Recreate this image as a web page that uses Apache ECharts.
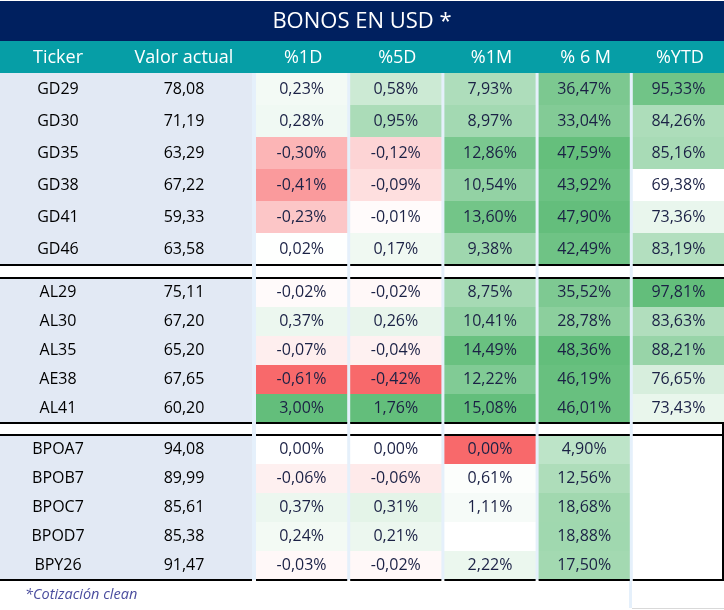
<!DOCTYPE html>
<html><head><meta charset="utf-8">
<script src="https://cdn.jsdelivr.net/npm/echarts@6/dist/echarts.min.js"></script>
<style>html,body{margin:0;padding:0;background:#fff}#c{width:724px;height:610px}</style>
</head><body><div id="c"></div>
<script>
// ---------- data ----------
const titleText = 'BONOS EN USD *';
const footnote = '*Cotización clean';
const headersLeft = ['Ticker', 'Valor actual'];
const headersRight = ['%1D', '%5D', '%1M', '% 6 M', '%YTD'];
const groupGD = ['GD29', 'GD30', 'GD35', 'GD38', 'GD41', 'GD46'];
const groupAL = ['AL29', 'AL30', 'AL35', 'AE38', 'AL41'];
const groupBP = ['BPOA7', 'BPOB7', 'BPOC7', 'BPOD7', 'BPY26'];
const valorActual = [78.08, 71.19, 63.29, 67.22, 59.33, 63.58, 75.11, 67.20, 65.20, 67.65, 60.20, 94.08, 89.99, 85.61, 85.38, 91.47];
const pct1D = [0.23, 0.28, -0.30, -0.41, -0.23, 0.02, -0.02, 0.37, -0.07, -0.61, 3.00, 0.00, -0.06, 0.37, 0.24, -0.03];
const pct5D = [0.58, 0.95, -0.12, -0.09, -0.01, 0.17, -0.02, 0.26, -0.04, -0.42, 1.76, 0.00, -0.06, 0.31, 0.21, -0.02];
const pct1M = [7.93, 8.97, 12.86, 10.54, 13.60, 9.38, 8.75, 10.41, 14.49, 12.22, 15.08, 0.00, 0.61, 1.11, null, 2.22];
const pct6M = [36.47, 33.04, 47.59, 43.92, 47.90, 42.49, 35.52, 28.78, 48.36, 46.19, 46.01, 4.90, 12.56, 18.68, 18.88, 17.50];
const pctYTD = [95.33, 84.26, 85.16, 69.38, 73.36, 83.19, 97.81, 83.63, 88.21, 76.65, 73.43, null, null, null, null, null];

// ---------- style / layout ----------
const groups = [groupGD, groupAL, groupBP];
const tickers = groupGD.concat(groupAL, groupBP);
const pctCols = [pct1D, pct5D, pct1M, pct6M, pctYTD];
const scaleMids = [0, 0, 0.3, -26.6, null]; // null -> white at column minimum
const FONT = 'Open Sans';
const RED = [248, 105, 107], WHITE = [255, 255, 255], GREEN = [99, 190, 123];
const groupTops = [73, 278, 435];
const rowH = [32, 29, 29];
const LEFT_W = 252, RIGHT_X = 253, RIGHT_W = 471;

const groupStart = [];
{ let s = 0; groups.forEach(g => { groupStart.push(s); s += g.length; }); }

function mix(a, b, t) {
  t = Math.max(0, Math.min(1, t));
  return 'rgb(' + a.map((v, i) => Math.round(v + (b[i] - v) * t)).join(',') + ')';
}
function cellColor(col, v) {
  if (v === null || v === undefined) return '#ffffff';
  const vals = pctCols[col].filter(x => x !== null);
  const lo = Math.min.apply(null, vals), hi = Math.max.apply(null, vals);
  const mid = scaleMids[col] === null ? lo : scaleMids[col];
  if (v <= mid) {
    if (mid === lo) return '#ffffff';
    return mix(WHITE, RED, (mid - v) / (mid - lo));
  }
  return mix(WHITE, GREEN, (v - mid) / (hi - mid));
}
function fmt(v) { return v.toFixed(2).replace('.', ','); }

function borders(children, g, r, x0, y0, w, h, isYTD) {
  const n = groups[g].length;
  const line = (x1, y1, x2, y2) => children.push({ type: 'line', shape: { x1, y1, x2, y2 }, style: { stroke: '#000', lineWidth: 2 }, z2: 10 });
  if (r === 0 && g > 0) line(x0, y0, x0 + w, y0);
  if (r === n - 1) {
    line(x0, y0 + h, x0 + w, y0 + h);
    if (g < groups.length - 1) {
      const gap = groupTops[g + 1] - (y0 + h);
      children.push({ type: 'rect', shape: { x: x0, y: y0 + h + 1, width: w, height: gap - 2 }, style: { fill: '#fff' } });
      if (isYTD && g === 1) line(x0 + w - 1, y0 + h, x0 + w - 1, y0 + h + gap);
    }
  }
  if (isYTD && g === 2) line(x0 + w - 1, y0, x0 + w - 1, y0 + h);
}

function renderLeft(g) {
  return function (params, api) {
    const c = api.value(0), r = api.value(1);
    const p = api.coord([c, r]), s = api.size([1, 1]);
    const x0 = p[0] - s[0] / 2, y0 = p[1] - s[1] / 2, w = s[0], h = s[1];
    const idx = groupStart[g] + r;
    const txt = c === 0 ? tickers[idx] : fmt(valorActual[idx]);
    const children = [
      { type: 'rect', shape: { x: x0, y: y0, width: w, height: h }, style: { fill: '#e2e9f4' } },
      { type: 'text', style: { text: txt, x: p[0] - 5, y: p[1], align: 'center', verticalAlign: 'middle', fontSize: 16, fontFamily: FONT, fill: '#000' } }
    ];
    borders(children, g, r, x0, y0, w, h, false);
    return { type: 'group', children };
  };
}
function renderRight(g) {
  return function (params, api) {
    const c = api.value(0), r = api.value(1);
    const p = api.coord([c, r]), s = api.size([1, 1]);
    const x0 = p[0] - s[0] / 2 + 3, y0 = p[1] - s[1] / 2, w = s[0] - 3, h = s[1];
    const idx = groupStart[g] + r;
    const v = pctCols[c][idx];
    const children = [
      { type: 'rect', shape: { x: x0, y: y0, width: w, height: h }, style: { fill: cellColor(c, v) } }
    ];
    if (v !== null) children.push({ type: 'text', style: { text: fmt(v) + '%', x: x0 + w / 2, y: p[1], align: 'center', verticalAlign: 'middle', fontSize: 16, fontFamily: FONT, fill: '#1b2145' } });
    borders(children, g, r, x0, y0, w, h, c === 4);
    return { type: 'group', children };
  };
}

const grid = [], xAxis = [], yAxis = [], series = [];
groups.forEach((names, g) => {
  const top = groupTops[g], height = names.length * rowH[g];
  grid.push({ left: 0, top, width: LEFT_W, height });
  grid.push({ left: RIGHT_X, top, width: RIGHT_W, height });
  [headersLeft, headersRight].forEach((hdr, k) => {
    const gi = g * 2 + k;
    xAxis.push({
      type: 'category', gridIndex: gi, data: hdr, position: 'top',
      axisLine: { show: false }, axisTick: { show: false }, splitLine: { show: false },
      axisLabel: { show: g === 0, color: '#fff', fontSize: 18, fontFamily: FONT, margin: 6, interval: 0, padding: k === 0 ? [0, 10, 0, 0] : [0, 0, 0, 6] }
    });
    yAxis.push({ type: 'category', gridIndex: gi, data: names, inverse: true, show: false });
    const data = [];
    const nc = hdr.length;
    for (let r = 0; r < names.length; r++) for (let c = 0; c < nc; c++) data.push([c, r]);
    series.push({
      type: 'custom', xAxisIndex: gi, yAxisIndex: gi, data,
      renderItem: k === 0 ? renderLeft(g) : renderRight(g),
      encode: { x: 0, y: 1 }, silent: true
    });
  });
});

const chart = echarts.init(document.getElementById('c'), null, { renderer: 'canvas' });
chart.setOption({
  animation: false,
  backgroundColor: '#ffffff',
  title: { text: titleText, left: 'center', top: 6, textStyle: { color: '#fff', fontSize: 22, fontWeight: 'normal', fontFamily: FONT } },
  graphic: [
    { type: 'rect', z: -10, shape: { x: 0, y: 1, width: 724, height: 40 }, style: { fill: '#00205f' } },
    { type: 'rect', z: -10, shape: { x: 0, y: 41, width: 724, height: 32 }, style: { fill: '#069ea6' } },
    { type: 'rect', z: -10, shape: { x: LEFT_W, y: 73, width: 724 - LEFT_W, height: 507 }, style: { fill: '#e5f0fb' } },
    { type: 'rect', z: -10, shape: { x: 629, y: 580, width: 3, height: 28 }, style: { fill: '#e5f0fb' } },
    { type: 'line', z: -10, shape: { x1: 632, y1: 608.5, x2: 724, y2: 608.5 }, style: { stroke: '#d9d9d9', lineWidth: 1 } },
    { type: 'text', z: 5, style: { text: footnote, x: 25, y: 595, verticalAlign: 'middle', fontSize: 14.5, fontStyle: 'italic', fontFamily: FONT, fill: '#4a4d9e' } }
  ],
  grid, xAxis, yAxis, series
});
</script></body></html>
